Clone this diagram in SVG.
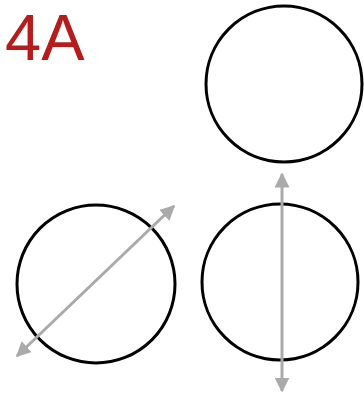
<svg xmlns="http://www.w3.org/2000/svg" width="364" height="396" viewBox="0 0 364 396">
<defs>
<style>
.c{fill:none;stroke:#000;stroke-width:3}
.a{stroke:#aaa;stroke-width:3;fill:none}
.t{font-family:"Liberation Sans",Arial,sans-serif;font-size:65px;fill:#b51c1c}
</style>
<marker id="ah" viewBox="0 0 10 10" refX="9" refY="5" markerWidth="5" markerHeight="5" orient="auto-start-reverse" markerUnits="strokeWidth">
<path d="M0,0 L10,5 L0,10 Z" fill="#aaa"/>
</marker>
</defs>
<rect width="364" height="396" fill="#fff"/>
<text class="t" x="5" y="60">4A</text>
<g id="circleTop"><circle class="c" cx="284" cy="84" r="78"/></g>
<g id="circleLeft"><circle class="c" cx="96" cy="284" r="79"/></g>
<g id="circleRight"><circle class="c" cx="280" cy="282" r="78"/></g>
<g id="connectors">
<line class="a" x1="282" y1="174" x2="282" y2="391" marker-start="url(#ah)" marker-end="url(#ah)"/>
<line class="a" x1="174" y1="206" x2="17" y2="356" marker-start="url(#ah)" marker-end="url(#ah)"/>
</g>
</svg>
